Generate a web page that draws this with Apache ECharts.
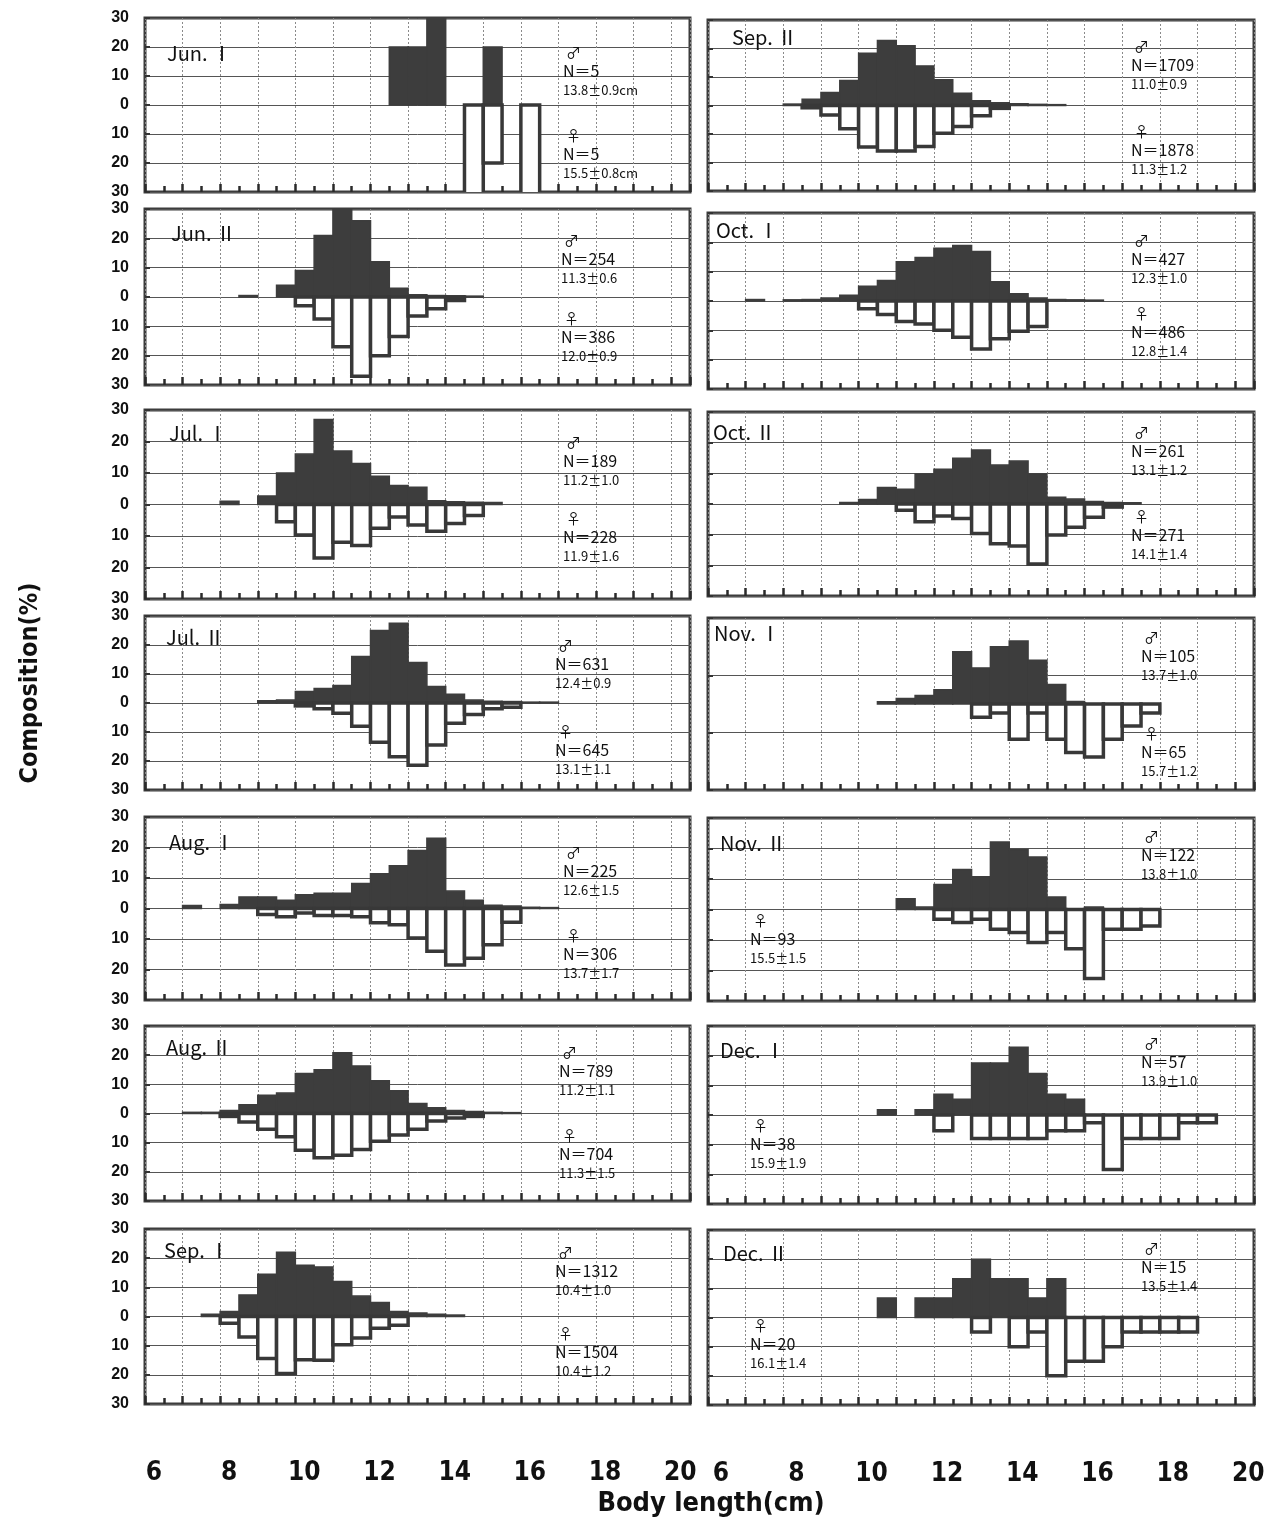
<!DOCTYPE html>
<html><head><meta charset="utf-8">
<script src="https://cdn.jsdelivr.net/npm/echarts@6/dist/echarts.min.js"></script>
<style>html,body{margin:0;padding:0;background:#fff}#c{width:1278px;height:1525px}</style>
</head><body><div id="c"></div>
<script>
// ---------- data ----------
const BIN = 0.5; // bin width (cm); each pair = [bin start (cm), percent]
const xTickLabels = [6, 8, 10, 12, 14, 16, 18, 20];

const panelTitles = ['Jun. Ⅰ','Jun. Ⅱ','Jul. Ⅰ','Jul. Ⅱ','Aug. Ⅰ','Aug. Ⅱ','Sep. Ⅰ',
                     'Sep. Ⅱ','Oct. Ⅰ','Oct. Ⅱ','Nov. Ⅰ','Nov. Ⅱ','Dec. Ⅰ','Dec. Ⅱ'];
const maleN     = ['5','254','189','631','225','789','1312','1709','427','261','105','122','57','15'];
const maleStat  = ['13.8±0.9cm','11.3±0.6','11.2±1.0','12.4±0.9','12.6±1.5','11.2±1.1','10.4±1.0',
                   '11.0±0.9','12.3±1.0','13.1±1.2','13.7±1.0','13.8±1.0','13.9±1.0','13.5±1.4'];
const femaleN   = ['5','386','228','645','306','704','1504','1878','486','271','65','93','38','20'];
const femaleStat= ['15.5±0.8cm','12.0±0.9','11.9±1.6','13.1±1.1','13.7±1.7','11.3±1.5','10.4±1.2',
                   '11.3±1.2','12.8±1.4','14.1±1.4','15.7±1.2','15.5±1.5','15.9±1.9','16.1±1.4'];

const junI_male   = [[12.5,20],[13,20],[13.5,40],[15,20]];
const junI_female = [[14.5,40],[15,20],[16,40]];
const junII_male   = [[8.5,0.5],[9.5,4],[10,9],[10.5,21],[11,31],[11.5,26],[12,12],[12.5,3],[13,0.8],[13.5,0.5],[14,0.4],[14.5,0.3]];
const junII_female = [[10,3],[10.5,7.5],[11,17],[11.5,27],[12,20],[12.5,13.5],[13,6.5],[13.5,4],[14,1.2]];
const julI_male   = [[8,1],[9,2.7],[9.5,10],[10,16],[10.5,27],[11,17],[11.5,13],[12,9],[12.5,6],[13,5.5],[13.5,1.2],[14,0.9],[14.5,0.7],[15,0.6]];
const julI_female = [[9.5,5.5],[10,9.7],[10.5,17],[11,12],[11.5,13],[12,7.5],[12.5,4],[13,6.5],[13.5,8.5],[14,6],[14.5,3.5]];
const julII_male   = [[9,0.8],[9.5,1],[10,4],[10.5,5],[11,6],[11.5,16],[12,25],[12.5,27.5],[13,14],[13.5,5.7],[14,3],[14.5,1],[15,0.6],[15.5,0.5],[16,0.3],[16.5,0.3]];
const julII_female = [[10,1],[10.5,2],[11,3.5],[11.5,8],[12,13.5],[12.5,18.5],[13,21.5],[13.5,14.5],[14,7],[14.5,4],[15,2],[15.5,1.5]];
const augI_male   = [[7,1],[8,1.3],[8.5,3.8],[9,3.8],[9.5,2.7],[10,4.5],[10.5,5],[11,5],[11.5,8.2],[12,11.4],[12.5,14],[13,19],[13.5,23],[14,5.7],[14.5,2.7],[15,1.1],[15.5,0.8],[16,0.4],[16.5,0.3]];
const augI_female = [[9,2],[9.5,2.7],[10,1.5],[10.5,2.3],[11,2.3],[11.5,2.7],[12,4.7],[12.5,5.3],[13,9.7],[13.5,14],[14,18.5],[14.5,16.3],[15,11.9],[15.5,4.5]];
const augII_male   = [[7,0.4],[7.5,0.4],[8,1],[8.5,3],[9,6.3],[9.5,7],[10,13.7],[10.5,15],[11,20.8],[11.5,16.3],[12,11.2],[12.5,7.8],[13,3.4],[13.5,2],[14,1],[14.5,0.7],[15,0.4],[15.5,0.3]];
const augII_female = [[8,1],[8.5,2.9],[9,5.4],[9.5,8],[10,12.6],[10.5,15.2],[11,14.3],[11.5,12.3],[12,9.5],[12.5,7.4],[13,5.4],[13.5,2.6],[14,1.5],[14.5,1]];
const sepI_male   = [[7.5,0.8],[8,1.7],[8.5,7.4],[9,14.5],[9.5,22],[10,17.6],[10.5,17],[11,12],[11.5,7],[12,4.8],[12.5,1.7],[13,1.2],[13.5,0.8],[14,0.5]];
const sepI_female = [[8,2.3],[8.5,7],[9,14.4],[9.5,19.5],[10,14.8],[10.5,15],[11,9.7],[11.5,7.4],[12,4],[12.5,3]];
const sepII_male   = [[8,0.5],[8.5,2.2],[9,4.6],[9.5,8.8],[10,18.3],[10.5,22.8],[11,21],[11.5,13.9],[12,9],[12.5,4.3],[13,1.7],[13.5,1],[14,0.6],[14.5,0.4],[15,0.3]];
const sepII_female = [[8.5,0.8],[9,3.3],[9.5,8.2],[10,14.6],[10.5,16],[11,16],[11.5,14.4],[12,9.7],[12.5,7.4],[13,3.6],[13.5,1]];
const octI_male   = [[7,0.5],[8,0.4],[8.5,0.5],[9,1],[9.5,2],[10,5],[10.5,7],[11,13.4],[11.5,14.8],[12,18],[12.5,18.9],[13,16.9],[13.5,6.6],[14,2.5],[14.5,1],[15,0.5],[15.5,0.4],[16,0.3]];
const octI_female = [[10,2.6],[10.5,4.6],[11,7],[11.5,7.8],[12,10],[12.5,12.4],[13,16.4],[13.5,12.9],[14,10.3],[14.5,8.7]];
const octII_male   = [[9.5,0.5],[10,1.5],[10.5,5.4],[11,4.8],[11.5,9.8],[12,11.3],[12.5,14.9],[13,17.6],[13.5,12.7],[14,14],[14.5,9.8],[15,2.2],[15.5,1.6],[16,0.8],[16.5,0.5],[17,0.4]];
const octII_female = [[11,2],[11.5,5.8],[12,3.9],[12.5,4.7],[13,9.6],[13.5,13],[14,13.7],[14.5,19.6],[15,10.1],[15.5,7.6],[16,4.3],[16.5,1]];
const novI_male   = [[10.5,0.8],[11,1.9],[11.5,3],[12,5],[12.5,18.2],[13,12.6],[13.5,20],[14,22],[14.5,15.3],[15,6.8],[15.5,0.9]];
const novI_female = [[13,4.6],[13.5,3.1],[14,12.3],[14.5,3.1],[15,12.3],[15.5,16.9],[16,18.5],[16.5,12.3],[17,7.7],[17.5,3.1]];
const novII_male   = [[11,3.5],[11.5,0.8],[12,8.2],[12.5,13.1],[13,10.7],[13.5,22.1],[14,19.7],[14.5,17.2],[15,4.1],[16,0.8]];
const novII_female = [[12,3.2],[12.5,4.3],[13,3.2],[13.5,6.5],[14,7.5],[14.5,10.8],[15,7.5],[15.5,12.9],[16,22.6],[16.5,6.5],[17,6.5],[17.5,5.4]];
const decI_male   = [[10.5,1.75],[11.5,1.75],[12,7],[12.5,5.3],[13,17.5],[13.5,17.5],[14,22.8],[14.5,14],[15,7],[15.5,5.3]];
const decI_female = [[12,5.3],[13,7.9],[13.5,7.9],[14,7.9],[14.5,7.9],[15,5.3],[15.5,5.3],[16,2.6],[16.5,18.4],[17,7.9],[17.5,7.9],[18,7.9],[18.5,2.6],[19,2.6]];
const decII_male   = [[10.5,6.7],[11.5,6.7],[12,6.7],[12.5,13.3],[13,20],[13.5,13.3],[14,13.3],[14.5,6.7],[15,13.3]];
const decII_female = [[13,5],[14,10],[14.5,5],[15,20],[15.5,15],[16,15],[16.5,10],[17,5],[17.5,5],[18,5],[18.5,5]];

const maleData = [junI_male, junII_male, julI_male, julII_male, augI_male, augII_male, sepI_male,
                  sepII_male, octI_male, octII_male, novI_male, novII_male, decI_male, decII_male];
const femaleData = [junI_female, junII_female, julI_female, julII_female, augI_female, augII_female, sepI_female,
                    sepII_female, octI_female, octII_female, novI_female, novII_female, decI_female, decII_female];

// ---------- layout ----------
const colX = [145, 708], colW = [545, 546];
const panelBox = [[18,192],[209,385],[410,599],[616,790],[817,1000],[1026,1201],[1229,1404],
                  [20,191],[213,389],[412,596],[618,790],[818,1001],[1026,1204],[1230,1405]];
const titlePos = [[167,53],[171,233],[169,433],[166,637],[169,842],[166,1047],[164,1250],
                  [732,37],[716,230],[713,432],[714,633],[720,843],[720,1050],[723,1253]];
const malePos = [[563,52],[561,240],[563,442],[555,645],[563,852],[559,1052],[555,1252],
                 [1131,46],[1131,240],[1131,432],[1141,637],[1141,836],[1141,1043],[1141,1248]];
const femalePos = [[563,135],[561,318],[563,518],[555,731],[563,935],[559,1135],[555,1333],
                   [1131,131],[1131,313],[1131,516],[1141,733],[750,920],[750,1125],[750,1325]];

const CJK = "'Noto Sans CJK JP','Noto Sans',sans-serif";
const NARROW = "'Liberation Sans Narrow','DejaVu Sans Condensed','Liberation Sans',sans-serif";

function rectItem(fill, stroke, lw) {
  return function (params, api) {
    const x0 = api.value(0), v = api.value(1);
    const a = api.coord([x0, 0]), b = api.coord([x0 + BIN, v]);
    return {type: 'rect',
      shape: {x: a[0], y: Math.min(a[1], b[1]), width: b[0] - a[0], height: Math.abs(b[1] - a[1])},
      style: {fill: fill, stroke: stroke, lineWidth: lw}};
  };
}

const grids = [], xAxes = [], yAxes = [], series = [], graphics = [];
for (let i = 0; i < 14; i++) {
  const col = i < 7 ? 0 : 1;
  const [top, bottom] = panelBox[i];
  const isBottom = (i === 6 || i === 13);
  grids.push({left: colX[col], top: top, width: colW[col], height: bottom - top,
    show: true, borderColor: '#3c3c3c', borderWidth: 3});
  xAxes.push({type: 'value', gridIndex: i, min: 6, max: 20.5, interval: 1,
    axisLine: {show: false, onZero: false},
    axisTick: {show: true, inside: true, length: 8, lineStyle: {color: '#2a2a2a', width: 2.5}},
    minorTick: {show: true, splitNumber: 2, length: 6, lineStyle: {color: '#2a2a2a', width: 2.5}},
    splitLine: {show: true, lineStyle: {color: '#8a8a8a', type: [2, 2], width: 1}},
    axisLabel: {show: true, margin: 56, fontSize: 26, fontWeight: 'bold', fontFamily: NARROW,
      color: '#111', padding: [0, 0, 0, col ? 26 : 18],
      formatter: v => (isBottom && xTickLabels.indexOf(v) >= 0) ? String(v) : ''}
  });
  yAxes.push({type: 'value', gridIndex: i, min: -30, max: 30, interval: i === 10 ? 20 : 10,
    axisLine: {show: false, onZero: false},
    axisTick: {show: true, inside: true, length: 5, lineStyle: {color: '#333', width: 2}},
    splitLine: {show: true, lineStyle: {color: '#555', width: 1}},
    axisLabel: {show: col === 0, formatter: v => String(Math.abs(v)), fontSize: 16, fontWeight: 'bold',
      color: '#111', margin: 16, fontFamily: "'Liberation Sans',Arial,sans-serif"}
  });
  series.push({type: 'custom', xAxisIndex: i, yAxisIndex: i, clip: true, silent: true, z: 3,
    renderItem: rectItem('#3d3d3d', '#3d3d3d', 1.5), encode: {x: 0, y: 1},
    data: maleData[i]});
  series.push({type: 'custom', xAxisIndex: i, yAxisIndex: i, clip: true, silent: true, z: 4,
    renderItem: rectItem('#ffffff', '#383838', 3.5), encode: {x: 0, y: 1},
    data: femaleData[i].map(d => [d[0], -d[1]])});

  graphics.push({type: 'text', x: titlePos[i][0], y: titlePos[i][1], z: 10,
    style: {text: panelTitles[i], fontSize: 20, fontFamily: CJK, fill: '#111', align: 'left', verticalAlign: 'middle'}});
  const [mx, my] = malePos[i], [fx, fy] = femalePos[i];
  graphics.push({type: 'text', x: mx + 3, y: my, z: 10, style: {text: '♂', fontSize: 15, fontFamily: CJK, fill: '#111', align: 'left', verticalAlign: 'middle'}});
  graphics.push({type: 'text', x: mx, y: my + 19, z: 10, style: {text: 'N＝' + maleN[i], fontSize: 16, fontFamily: CJK, fill: '#111', align: 'left', verticalAlign: 'middle'}});
  graphics.push({type: 'text', x: mx, y: my + 38, z: 10, style: {text: maleStat[i], fontSize: 13, fontFamily: CJK, fill: '#111', align: 'left', verticalAlign: 'middle'}});
  graphics.push({type: 'text', x: fx + 3, y: fy, z: 10, style: {text: '♀', fontSize: 15, fontFamily: CJK, fill: '#111', align: 'left', verticalAlign: 'middle'}});
  graphics.push({type: 'text', x: fx, y: fy + 19, z: 10, style: {text: 'N＝' + femaleN[i], fontSize: 16, fontFamily: CJK, fill: '#111', align: 'left', verticalAlign: 'middle'}});
  graphics.push({type: 'text', x: fx, y: fy + 38, z: 10, style: {text: femaleStat[i], fontSize: 13, fontFamily: CJK, fill: '#111', align: 'left', verticalAlign: 'middle'}});
}
graphics.push({type: 'text', x: 711, y: 1504, z: 10,
  style: {text: 'Body length(cm)', fontSize: 27, fontWeight: 'bold', fontFamily: NARROW, fill: '#111', align: 'center', verticalAlign: 'middle'}});
graphics.push({type: 'text', x: 30, y: 683, rotation: Math.PI / 2, z: 10,
  style: {text: 'Composition(%)', fontSize: 25, fontWeight: 'bold', fontFamily: NARROW, fill: '#111', align: 'center', verticalAlign: 'middle'}});

const chart = echarts.init(document.getElementById('c'), null, {renderer: 'canvas'});
chart.setOption({animation: false, backgroundColor: '#fff',
  grid: grids, xAxis: xAxes, yAxis: yAxes, series: series, graphic: graphics});
</script></body></html>
